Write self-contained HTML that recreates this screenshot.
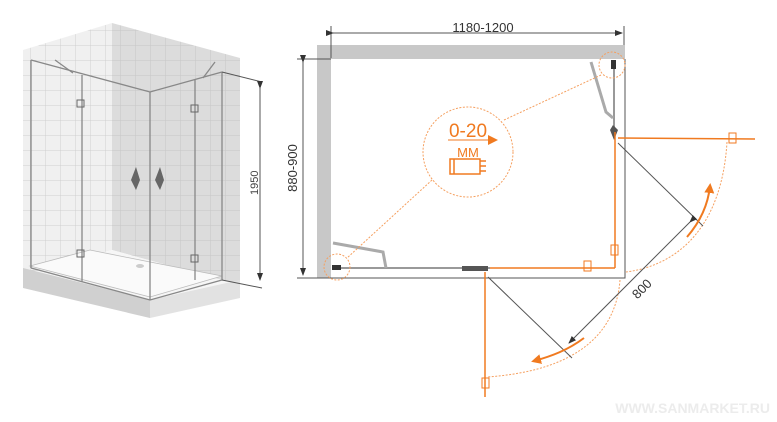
<!DOCTYPE html>
<html><head><meta charset="utf-8"><style>html,body{margin:0;padding:0;background:#fff;}svg{display:block;}</style></head>
<body>
<svg width="777" height="422" viewBox="0 0 777 422" xmlns="http://www.w3.org/2000/svg" font-family="Liberation Sans, sans-serif">
<defs>
<pattern id="tile" width="15" height="15" patternUnits="userSpaceOnUse"><rect width="15" height="15" fill="#f0f0f0"/><path d="M0 0H15M0 0V15" stroke="#cfcfcf" stroke-width="1"/></pattern>
<pattern id="tile2" width="15" height="15" patternUnits="userSpaceOnUse"><rect width="15" height="15" fill="#dcdcdc"/><path d="M0 0H15M0 0V15" stroke="#c6c6c6" stroke-width="1"/></pattern>
<marker id="ah" markerUnits="userSpaceOnUse" markerWidth="8" markerHeight="6" refX="7" refY="3" orient="auto"><path d="M0,0L8,3L0,6z" fill="#333"/></marker>
<marker id="oh" markerUnits="userSpaceOnUse" markerWidth="10" markerHeight="10" refX="7" refY="5" orient="auto"><path d="M0,0L10,5L0,10z" fill="#f07a20"/></marker>
</defs>
<!-- 3D left -->
<polygon points="23,50 112,23 112,250 23,275" fill="url(#tile)"/>
<polygon points="112,23 240,58 240,285 112,250" fill="url(#tile2)"/>
<polygon points="23,275 112,250 240,285 150,312" fill="#f6f6f6"/>
<polygon points="23,268 150,300 150,318 23,288" fill="#d0d0d0"/>
<polygon points="150,300 240,280 240,298 150,318" fill="#e2e2e2"/>
<polygon points="30,266 150,297 222,276 150,262 90,250" fill="#fafafa" stroke="#bbb" stroke-width="0.8"/>
<g stroke="#888" stroke-width="1.3" fill="none">
<path d="M31,60 L150,92 L222,72"/>
<path d="M31,60 V268 M150,92 V300 M222,72 V280 M82,75 V282 M195,80 V280"/>
<path d="M31,268 L150,300 L222,280"/>
<path d="M55,60 L73,73 M215,62 L203,78"/>
</g>
<rect x="77" y="100" width="7" height="7" fill="none" stroke="#666"/>
<rect x="77" y="250" width="7" height="7" fill="none" stroke="#666"/>
<rect x="191" y="105" width="7" height="7" fill="none" stroke="#666"/>
<rect x="191" y="255" width="7" height="7" fill="none" stroke="#666"/>
<path d="M136,167 L131,180 L136,190 L140,180Z M160,167 L155,180 L160,190 L164,180Z" fill="#666"/>
<ellipse cx="140" cy="266" rx="4" ry="2" fill="#ccc"/>
<g stroke="#555" stroke-width="1" fill="none">
<path d="M222,72 L262,82 M222,280 L262,288"/>
<line x1="260" y1="88" x2="260" y2="280" marker-start="url(#ah)" marker-end="url(#ah)"/>
</g>
<text x="0" y="0" font-size="11" fill="#444" transform="translate(258,195) rotate(-90)">1950</text>
<!-- plan -->
<rect x="317" y="45" width="308" height="14" fill="#c8c8c8"/>
<rect x="317" y="45" width="14" height="233" fill="#c8c8c8"/>
<g stroke="#555" stroke-width="1" fill="none">
<line x1="331" y1="26" x2="331" y2="58"/><line x1="624" y1="26" x2="624" y2="45"/>
<line x1="333" y1="33" x2="622" y2="33" marker-start="url(#ah)" marker-end="url(#ah)"/>
<line x1="297" y1="59" x2="331" y2="59"/><line x1="297" y1="278" x2="331" y2="278"/>
<line x1="303" y1="62" x2="303" y2="275" marker-start="url(#ah)" marker-end="url(#ah)"/>
<path d="M625,59 V278 H331"/>
</g>
<text x="483" y="32" font-size="13" fill="#333" text-anchor="middle">1180-1200</text>
<text font-size="13" fill="#333" text-anchor="middle" transform="translate(297,168) rotate(-90)">880-900</text>
<!-- glass -->
<g stroke="#999" stroke-width="2" fill="none">
<line x1="614" y1="60" x2="614" y2="130"/><line x1="333" y1="268" x2="490" y2="268"/>
<path d="M591,62 L606,112 L613,118" stroke-width="3" stroke="#aaa"/>
<path d="M333,243 L383,252 L386,268" stroke-width="3" stroke="#aaa"/>
</g>
<rect x="611" y="60" width="5" height="9" fill="#333"/>
<rect x="332" y="265" width="9" height="5" fill="#333"/>
<path d="M613,125 L618,130 L614,140 L610,130Z" fill="#555"/>
<path d="M462,266 L488,266 L488,271 L462,271Z" fill="#555"/>
<g stroke="#f07a20" stroke-width="1.5" fill="none">
<line x1="615" y1="132" x2="615" y2="268"/><line x1="490" y1="268" x2="615" y2="268"/>
<line x1="618" y1="138" x2="755" y2="139"/><line x1="485" y1="272" x2="485" y2="397"/>
<rect x="729" y="133" width="7" height="10" stroke-width="1"/>
<rect x="611" y="245" width="7" height="10" stroke-width="1"/>
<rect x="584" y="261" width="7" height="10" stroke-width="1"/>
<rect x="482" y="378" width="7" height="10" stroke-width="1"/>
</g>
<g stroke="#f5a060" stroke-width="1" fill="none" stroke-dasharray="2,1.5">
<path d="M727,142 C722,225 680,265 626,272"/>
<path d="M620,280 C615,345 560,372 487,377"/>
<circle cx="468" cy="152" r="45"/>
<circle cx="612" cy="65" r="13"/>
<circle cx="337" cy="267" r="13"/>
<line x1="504" y1="120" x2="601" y2="75"/>
<line x1="432" y1="180" x2="347" y2="258"/>
</g>
<text x="468" y="137" font-size="19" fill="#f07a20" text-anchor="middle">0-20</text>
<line x1="448" y1="140" x2="495" y2="140" stroke="#f07a20" stroke-width="1" marker-end="url(#oh)"/>
<text x="468" y="157" font-size="13" fill="#f07a20" text-anchor="middle">MM</text>
<g stroke="#f07a20" stroke-width="1.5" fill="none">
<rect x="450" y="159" width="30" height="15"/><line x1="454" y1="159" x2="454" y2="174"/>
<path d="M480,161 h6 M480,166 h6 M480,171 h6"/>
</g>
<g stroke="#555" stroke-width="1" fill="none">
<line x1="618" y1="143" x2="703" y2="226"/>
<line x1="488" y1="277" x2="572" y2="358"/>
<line x1="690" y1="222" x2="569" y2="343" marker-start="url(#ah)" marker-end="url(#ah)"/>
</g>
<text font-size="13" fill="#333" text-anchor="middle" transform="translate(645,292) rotate(-45)">800</text>
<g stroke="#f07a20" stroke-width="2" fill="none">
<path d="M687,237 C700,222 708,205 710,186" marker-end="url(#oh)"/>
<path d="M584,338 C568,350 552,356 534,361" marker-end="url(#oh)"/>
</g>
<text x="770" y="413" font-size="14" fill="#ececec" text-anchor="end" font-weight="bold">WWW.SANMARKET.RU</text>
</svg>
</body></html>
